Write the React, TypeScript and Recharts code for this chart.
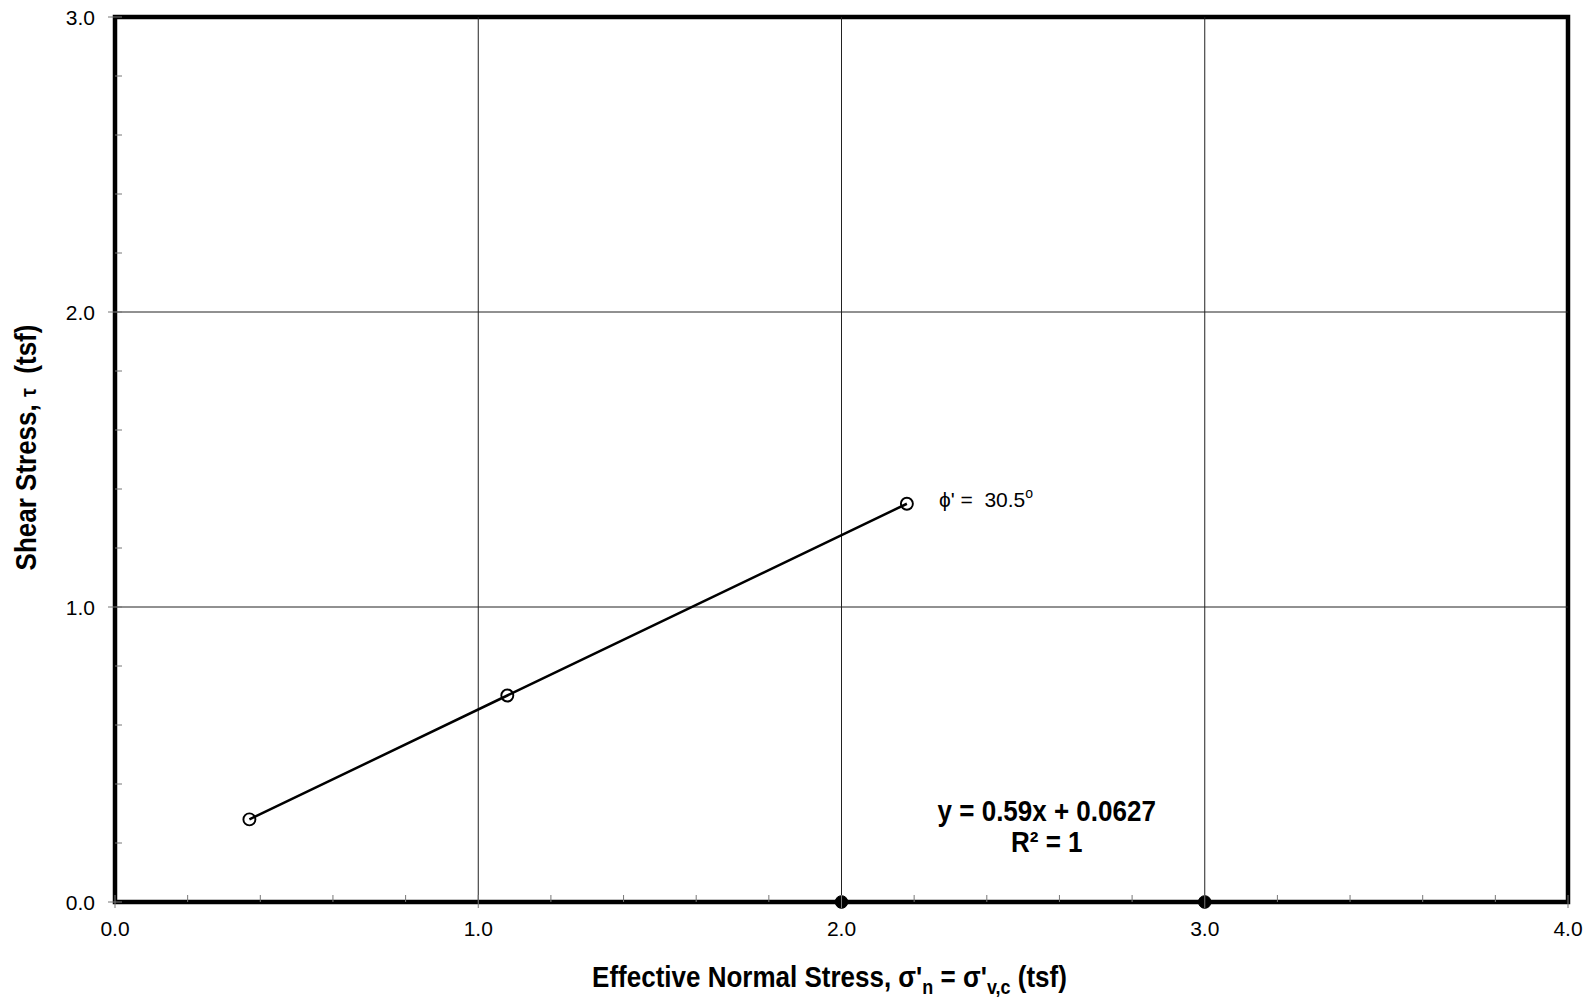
import React from 'react';
import {
  ScatterChart,
  Scatter,
  XAxis,
  YAxis,
  ReferenceLine,
  ReferenceArea,
  ReferenceDot,
} from 'recharts';

// ---- data ----
const normalStress = [0.37, 1.08, 2.18];
const shearStress = [0.28, 0.7, 1.35];
const markerNormal = [2.0, 3.0];
const markerShear = [0, 0];

const xTicks = [0, 0.2, 0.4, 0.6, 0.8, 1.0, 1.2, 1.4, 1.6, 1.8, 2.0, 2.2, 2.4, 2.6, 2.8, 3.0, 3.2, 3.4, 3.6, 3.8, 4.0];
const yTicks = [0, 0.2, 0.4, 0.6, 0.8, 1.0, 1.2, 1.4, 1.6, 1.8, 2.0, 2.2, 2.4, 2.6, 2.8, 3.0];
const xGrid = [1, 2, 3];
const yGrid = [1, 2];

const equationLines = ['y = 0.59x + 0.0627', 'R² = 1'];
const equationPos = { x: 2.565, y: 0.29 };
const phiText = "ϕ' =  30.5";

const testData = normalStress.map((x, i) => ({ x, y: shearStress[i] }));
const markerData = markerNormal.map((x, i) => ({ x, y: markerShear[i] }));

const FONT = '"Liberation Sans", Arial, Helvetica, sans-serif';

const isMajor = (v: number) => Math.abs(v - Math.round(v)) < 1e-6;

const XTick = (props: any) => {
  const { x, y, payload } = props;
  const v = payload.value as number;
  const major = isMajor(v);
  return (
    <g>
      <line x1={x} x2={x} y1={y} y2={y - 7} stroke="#777" strokeWidth={1} />
      {major && <line x1={x} x2={x} y1={y} y2={y + 6} stroke="#777" strokeWidth={1} />}
      {major && (
        <text x={x} y={y + 34} textAnchor="middle" fontFamily={FONT} fontSize={21} fill="#000">
          {v.toFixed(1)}
        </text>
      )}
    </g>
  );
};

const YTick = (props: any) => {
  const { x, y, payload } = props;
  const v = payload.value as number;
  const major = isMajor(v);
  return (
    <g>
      <line x1={x} x2={x + 7} y1={y} y2={y} stroke="#777" strokeWidth={1} />
      {major && <line x1={x - 7} x2={x} y1={y} y2={y} stroke="#777" strokeWidth={1} />}
      {major && (
        <text x={x - 20} y={y + 7.5} textAnchor="end" fontFamily={FONT} fontSize={21} fill="#000">
          {v.toFixed(1)}
        </text>
      )}
    </g>
  );
};

const OpenCircle = (props: any) => {
  const { cx, cy } = props;
  return <circle cx={cx} cy={cy} r={6} fill="none" stroke="#000" strokeWidth={1.9} />;
};

const FilledDot = (props: any) => {
  const { cx, cy } = props;
  return <circle cx={cx} cy={cy} r={6.3} fill="#000" stroke="#000" strokeWidth={1} />;
};

const XLabel = (props: any) => {
  const { viewBox } = props;
  const cx = viewBox.x + viewBox.width / 2 - 12;
  const by = 987;
  return (
    <g transform={`translate(${cx},${by}) scale(1,1.12)`}>
      <text x={0} y={0} textAnchor="middle" fontFamily={FONT} fontSize={26} fontWeight="bold" fill="#000">
        <tspan>Effective Normal Stress, σ'</tspan>
        <tspan fontSize={18} dy={6}>n</tspan>
        <tspan dy={-6}> = σ'</tspan>
        <tspan fontSize={18} dy={6}>v,c</tspan>
        <tspan dy={-6}> (tsf)</tspan>
      </text>
    </g>
  );
};

const YLabel = (props: any) => {
  const { viewBox } = props;
  const cy = viewBox.y + viewBox.height / 2 - 12;
  const bx = 36;
  return (
    <g transform={`translate(${bx},${cy}) rotate(-90) scale(1,1.12)`}>
      <text x={0} y={0} textAnchor="middle" fontFamily={FONT} fontSize={26} fontWeight="bold" fill="#000" style={{ whiteSpace: 'pre' }}>
        <tspan>Shear Stress, </tspan>
        <tspan fontSize={20}>τ</tspan>
        <tspan>  (tsf)</tspan>
      </text>
    </g>
  );
};

const EquationShape = (props: any) => {
  const { cx, cy } = props;
  return (
    <g>
      {equationLines.map((t, i) => (
        <g key={i} transform={`translate(${cx},${cy + 5 + i * 31}) scale(1,1.1)`}>
          <text x={0} y={0} textAnchor="middle" fontFamily={FONT} fontSize={26} fontWeight="bold" fill="#000">
            {t}
          </text>
        </g>
      ))}
    </g>
  );
};

const PhiShape = (props: any) => {
  const { cx, cy } = props;
  return (
    <text x={cx + 32} y={cy + 3} fontFamily={FONT} fontSize={21} fill="#000" style={{ whiteSpace: 'pre' }}>
      {phiText}
      <tspan fontSize={14} dy={-9}>o</tspan>
    </text>
  );
};

export default function App() {
  return (
    <div style={{ position: 'absolute', left: 0, top: 0, width: 1589, height: 1000, background: '#fff' }}>
      <ScatterChart width={1589} height={1000} margin={{ top: 17, right: 21, left: 0, bottom: 0 }}>
        <XAxis
          type="number"
          dataKey="x"
          domain={[0, 4]}
          ticks={xTicks}
          interval={0}
          tickSize={0}
          tickMargin={0}
          tickLine={false}
          axisLine={false}
          height={98}
          tick={<XTick />}
          label={<XLabel />}
        />
        <YAxis
          type="number"
          dataKey="y"
          domain={[0, 3]}
          ticks={yTicks}
          interval={0}
          tickSize={0}
          tickMargin={0}
          tickLine={false}
          axisLine={false}
          width={115}
          tick={<YTick />}
          label={<YLabel />}
        />
        {xGrid.map((v) => (
          <ReferenceLine key={'gx' + v} x={v} stroke="#222" strokeWidth={1} />
        ))}
        {yGrid.map((v) => (
          <ReferenceLine key={'gy' + v} y={v} stroke="#222" strokeWidth={1} />
        ))}
        <ReferenceArea x1={0} x2={4} y1={0} y2={3} fill="none" fillOpacity={0} stroke="#000" strokeWidth={4.5} />
        <Scatter
          data={testData}
          line={{ stroke: '#000', strokeWidth: 2.5 }}
          lineType="joint"
          shape={<OpenCircle />}
          isAnimationActive={false}
        />
        <Scatter data={markerData} shape={<FilledDot />} isAnimationActive={false} />
        <ReferenceDot
          x={normalStress[2]}
          y={shearStress[2]}
          r={0}
          shape={<PhiShape />}
        />
        <ReferenceDot x={equationPos.x} y={equationPos.y} r={0} shape={<EquationShape />} />
      </ScatterChart>
    </div>
  );
}
